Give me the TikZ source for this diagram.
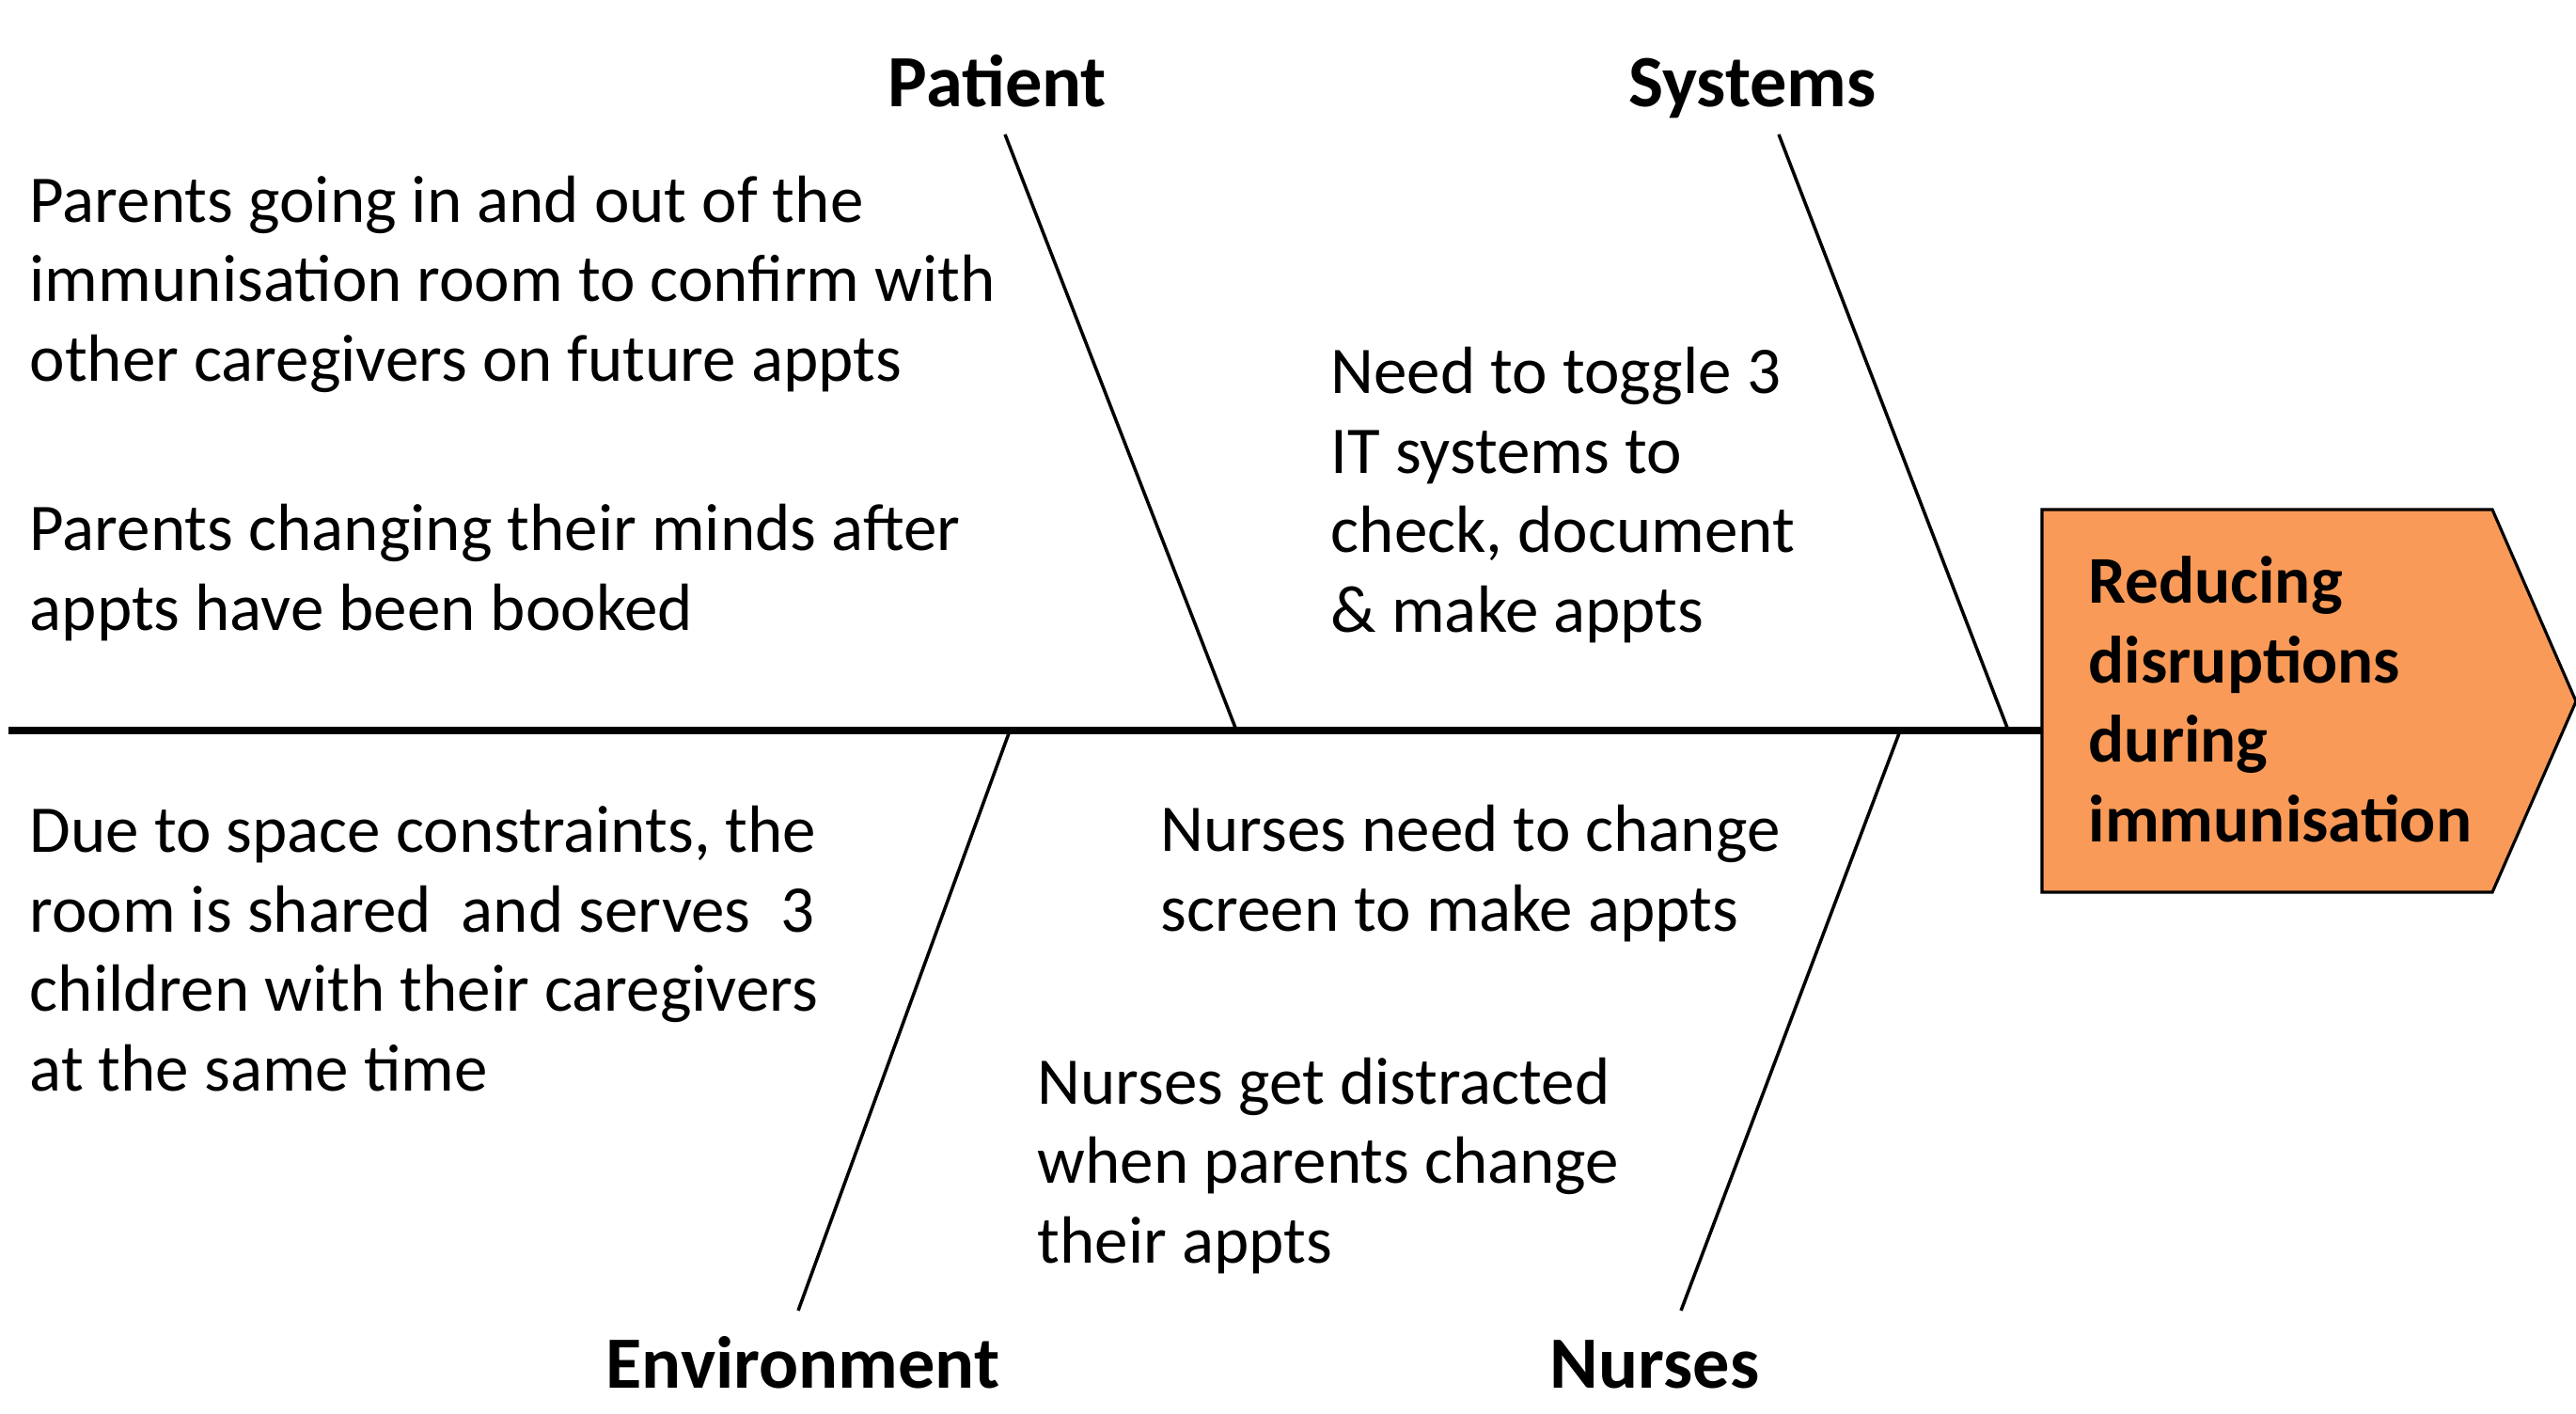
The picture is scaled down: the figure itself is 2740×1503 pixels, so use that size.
\documentclass[tikz,border=0pt]{standalone}
\usepackage{fontspec}
\setmainfont{Carlito}
\definecolor{effectfill}{RGB}{249,154,88}

\begin{document}
\begin{tikzpicture}[x=0.01cm,y=-0.01cm,
        cause/.style={anchor=base west,align=left,inner sep=0pt,
            font=\fontsize{20.2}{24}\selectfont},
        category/.style={anchor=base,inner sep=0pt,
            font=\fontsize{22.3}{26}\selectfont\bfseries},
        bone/.style={line width=1pt},
        spine/.style={line width=2pt}]
        \useasboundingbox (0,0) rectangle (2740,1503);

        % Effect box (text placed by its last line)
        \draw [fill=effectfill,line width=0.9pt] (2172,542) -- (2651,542)
            -- (2740,746) -- (2651,949) -- (2172,949) -- cycle;
        \node [cause,font=\fontsize{20.2}{24}\selectfont\bfseries] (effect)
            at (2221,895) {Reducing\\disruptions\\during\\immunisation};

        % Spine
        \coordinate (tail) at (9,777);
        \coordinate (head) at (2172,777);
        \draw [spine] (tail) -- (head);

        % Bones
        \coordinate (patTop) at (1069,143);
        \coordinate (patFoot) at (1314,774);
        \coordinate (sysTop) at (1892,143);
        \coordinate (sysFoot) at (2135,774);
        \coordinate (envFoot) at (1073,780);
        \coordinate (envEnd) at (849,1394);
        \coordinate (nurFoot) at (2020,780);
        \coordinate (nurEnd) at (1788,1394);
        \draw [bone] (patTop) -- (patFoot);
        \draw [bone] (sysTop) -- (sysFoot);
        \draw [bone] (envFoot) -- (envEnd);
        \draw [bone] (nurFoot) -- (nurEnd);

        % Categories
        \node [category] (patient) at (1061,114) {Patient};
        \node [category] (systems) at (1864,114) {Systems};
        \node [category] (environment) at (854,1476) {Environment};
        \node [category] (nurses) at (1760,1476) {Nurses};

        % Causes (anchored at the baseline of the last line)
        \node [cause] (pat1) at (31,405) {Parents going in and out of the\\
            immunisation room to confirm with\\other caregivers on future appts};
        \node [cause] (pat2) at (31,670) {Parents changing their minds after\\
            appts have been booked};
        \node [cause] (sys1) at (1415,672) {Need to toggle 3\\IT systems to\\
            check, document\\\& make appts};
        \node [cause] (env1) at (31,1160) {Due to space constraints, the\\
            room is shared\ \ and serves\ \ 3\\children with their caregivers\\
            at the same time};
        \node [cause] (nur1) at (1234,990) {Nurses need to change\\
            screen to make appts};
        \node [cause] (nur2) at (1103,1343) {Nurses get distracted\\
            when parents change\\their appts};
    \end{tikzpicture}
\end{document}
